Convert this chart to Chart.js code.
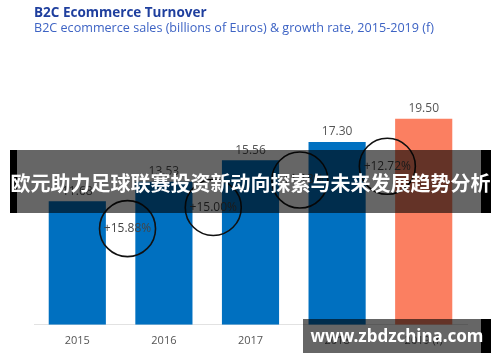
<!DOCTYPE html>
<html>
<head>
<meta charset="utf-8">
<script src="https://cdn.jsdelivr.net/npm/chart.js@4/dist/chart.umd.min.js"></script>
<style>
  body { margin: 0; background: #fff; }
  #wrap { position: relative; width: 500px; height: 362px; overflow: hidden; }
  #banner {
    position: absolute; left: 10px; top: 150px; width: 464px; height: 63px;
    background: rgba(0, 0, 0, 0.6);
    border-left: 7px solid #000; border-right: 10px solid #000;
  }
  #banner span {
    position: absolute; left: -7px; width: 481px; top: 18px; line-height: 63px;
    text-align: center; color: #fff; font: bold 20px "Noto Sans CJK SC";
    white-space: nowrap;
  }
  #mark {
    position: absolute; left: 303px; top: 319px; width: 178px; height: 34px;
    background: rgba(0, 0, 0, 0.6); border-right: 10px solid #000;
  }
  #mark span {
    position: absolute; left: 0; width: 188px; top: 5px; line-height: 34px;
    text-align: center; color: #fff; font: bold 17px "Noto Sans";
    white-space: nowrap;
  }
</style>
</head>
<body>
<div id="wrap">
  <canvas id="canvas"></canvas>
  <div id="banner"><span>欧元助力足球联赛投资新动向探索与未来发展趋势分析</span></div>
  <div id="mark"><span>www.zbdzchina.com</span></div>
</div>
<script>
// chart data
const years = ["2015", "2016", "2017", "2018", "2019 (f)"];
const sales = [11.68, 13.53, 15.56, 17.30, 19.50];
const barColors = ["#0070c0", "#0070c0", "#0070c0", "#0070c0", "#fb7f61"];
const growthLabels = ["+15.88%", "+15.00%", "+11.18%", "+12.72%"];
const growthX = [0.58, 1.57, 2.57, 3.58];
const growthY = [9.1, 11.1, 13.7, 15.0];

//draws sales value over every bar and growth text in circles
const labelPlugin = {
  id: "labels",
  afterDatasetsDraw(chart) {
    const ctx = chart.ctx;
    ctx.save();
    ctx.textAlign = "center";
    ctx.font = "12px 'Open Sans'";
    ctx.fillStyle = "#555";
    ctx.textBaseline = "bottom";
    chart.getDatasetMeta(0).data.forEach((bar, i) => {
      ctx.fillText(sales[i].toFixed(2), bar.x, bar.y - 4);
    });
    ctx.fillStyle = "#444";
    ctx.textBaseline = "middle";
    chart.getDatasetMeta(1).data.forEach((pt, i) => {
      ctx.fillText(growthLabels[i], pt.x, pt.y);
    });
    ctx.restore();
  },
};

const ctx = document.getElementById("canvas").getContext("2d");

new Chart(ctx, {
  type: "bar",
  data: {
    labels: years,
    datasets: [
      {
        data: sales,
        backgroundColor: barColors,
        grouped: false,
        categoryPercentage: 1,
        barPercentage: 0.66,
        order: 2,
      },
      {
        type: "line",
        xAxisID: "x2",
        data: growthX.map((x, i) => ({ x: x, y: growthY[i] })),
        showLine: false,
        pointRadius: 28,
        pointHoverRadius: 28,
        pointBorderWidth: 1.6,
        pointBorderColor: "#111",
        pointBackgroundColor: "rgba(0,0,0,0)",
        order: 1,
      },
    ],
  },
  options: {
    responsive: true,
    maintainAspectRatio: false,
    animation: false,
    layout: { autoPadding: false, padding: { left: 34, right: 33, top: 5, bottom: 6 } },
    scales: {
      x: {
        grid: { display: false, drawTicks: false },
        border: { color: "#e2e2e2" },
        ticks: { color: "#555", font: { family: "Open Sans", size: 11 }, padding: 9 },
      },
      x2: { type: "linear", display: false, offset: false, min: -0.5, max: 4.5 },
      y: { display: false, min: 0, max: 22 },
    },
    plugins: {
      legend: { display: false },
      tooltip: { enabled: false },
      title: {
        display: true,
        align: "start",
        text: "B2C Ecommerce Turnover",
        color: "#1f3f9e",
        font: { family: "Open Sans", size: 13.5, weight: "bold" },
        padding: { top: 0, bottom: 0 },
      },
      subtitle: {
        display: true,
        align: "start",
        text: "B2C ecommerce sales (billions of Euros) & growth rate, 2015-2019 (f)",
        color: "#3d63c4",
        font: { family: "Open Sans", size: 12.6 },
        padding: { top: 0, bottom: 56 },
      },
    },
  },
  plugins: [labelPlugin],
});
</script>
</body>
</html>
